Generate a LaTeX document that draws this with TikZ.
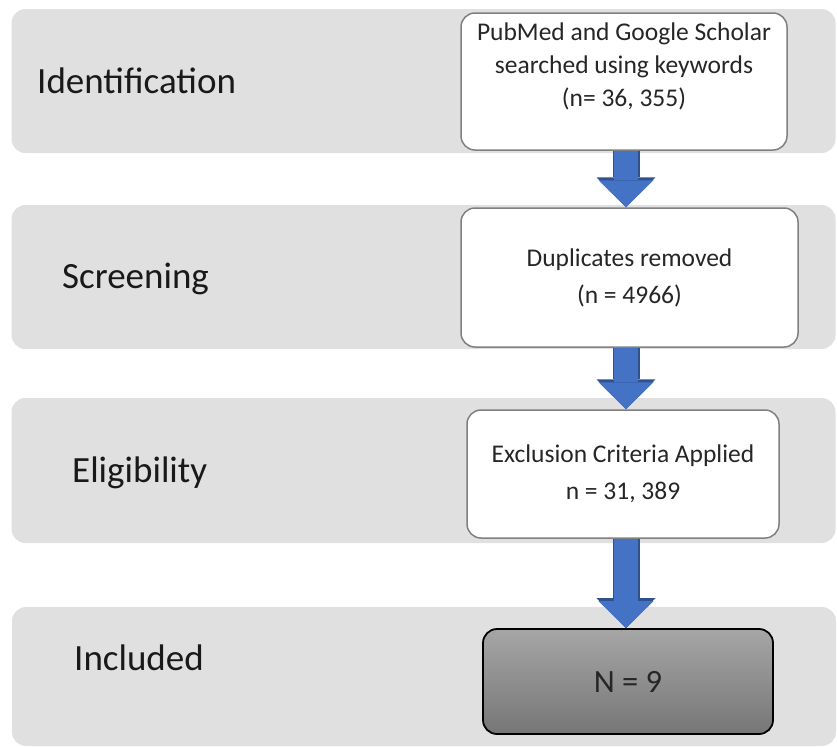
\documentclass[tikz,border=0pt]{standalone}
\usepackage{fontspec}
\setmainfont{Carlito}
\usetikzlibrary{shapes,arrows.meta,positioning,backgrounds}
\definecolor{band}{RGB}{224, 224, 224}
\definecolor{edgegray}{RGB}{128, 128, 128}
\definecolor{arrowblue}{RGB}{68, 114, 196}
\definecolor{arrowedge}{RGB}{47, 82, 143}
\definecolor{darktop}{RGB}{166, 166, 166}
\definecolor{darkbot}{RGB}{118, 118, 118}
\tikzstyle{stage} = [rectangle, rounded corners=14pt, draw=none, fill=band, minimum width=824pt]
\tikzstyle{stagename} = [anchor=base west, inner sep=0pt, text=black!90, font=\fontsize{37}{44}\selectfont]
\tikzstyle{record} = [rectangle, rounded corners=14pt, draw=edgegray, line width=1.5pt, fill=white, text=black!85, align=center, font=\fontsize{25.5}{37}\selectfont]
\tikzstyle{result} = [rectangle, rounded corners=14pt, draw=black, line width=1.8pt, top color=darktop, bottom color=darkbot, text=black!85, font=\fontsize{32.5}{38}\selectfont]
\tikzstyle{flowedge} = [draw=arrowedge, line width=27pt, -{Triangle[length=30pt 0 0, width=59pt 0 0, line width=0pt, fill=arrowedge]}]
\tikzstyle{flow} = [draw=arrowblue, line width=24pt, -{Triangle[length=27pt 0 0, width=55pt 0 0, line width=0pt, fill=arrowblue]}]

\begin{document}
\begin{tikzpicture}[x=1pt, y=-1pt]
\useasboundingbox (0,0) rectangle (837,747);

% stage bands =============================
\node[stage, minimum height=144pt] (band1) at (423.5,81) {};
\node[stage, minimum height=144pt] (band2) at (423.5,277) {};
\node[stage, minimum height=145pt] (band3) at (423.5,470.5) {};
\node[stage, minimum height=139pt] (band4) at (424,676.5) {};

\node[stagename] (ident) at (37,93) {Identification};
\node[stagename] (screen) at (62,288) {Screening};
\node[stagename] (elig) at (72,482) {Eligibility};
\node[stagename] (incl) at (74,670) {Included};

% records =============================
\node[record, minimum width=326pt, minimum height=137pt, font=\fontsize{25.5}{33}\selectfont] (rec1) at (624,81.5)
  {PubMed and Google Scholar\\searched using keywords\\(n= 36, 355)\\~};
\node[record, minimum width=337pt, minimum height=139pt] (rec2) at (629.5,277.5)
  {Duplicates removed\\(n = 4966)};
\node[record, minimum width=312pt, minimum height=128pt] (rec3) at (623,474)
  {Exclusion Criteria Applied\\n = 31, 389};
\node[result, minimum width=290pt, minimum height=105pt] (res) at (628,681.5) {N = 9};

% arrows
\coordinate (axis) at (626,0);
\foreach \a/\b in {rec1/rec2, rec2/rec3, rec3/res} {
  \path[flowedge] (\a.south -| axis) -- (\b.north -| axis);
  \path[flow] (\a.south -| axis) -- (\b.north -| axis);
}

\end{tikzpicture}
\end{document}
